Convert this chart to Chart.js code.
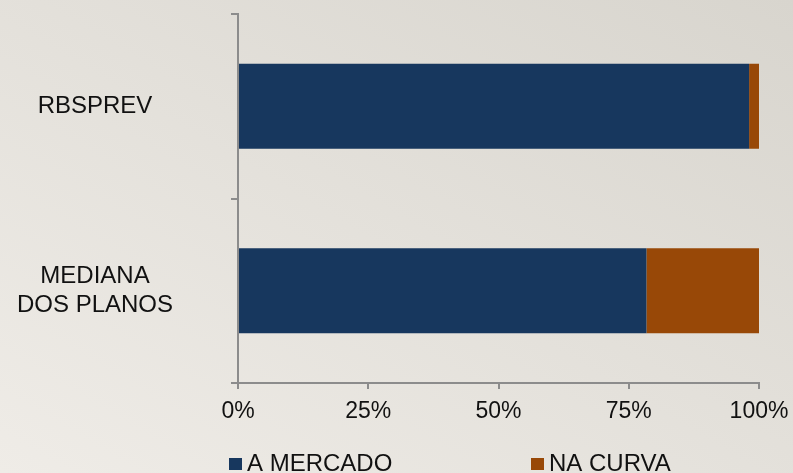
<!DOCTYPE html>
<html>
<head>
<meta charset="utf-8">
<script src="https://cdn.jsdelivr.net/npm/chart.js@4.4.1/dist/chart.umd.min.js"></script>
<style>
    html, body { margin: 0; padding: 0; overflow: hidden; }
    body { width: 793px; height: 473px; background: linear-gradient(to bottom left, #d8d5ce, #efece7); }
</style>
</head>
<body>
<canvas id="chart" width="793" height="473"></canvas>
<script>
// dados do grafico
const categories = ['RBSPREV', ['MEDIANA', 'DOS PLANOS']];
const seriesNames = ['A MERCADO', 'NA CURVA'];
const aMercado = [98.1, 78.4];
const naCurva = [1.9, 21.6];
const xTicks = [0, 25, 50, 75, 100];

const FAMILY = '"Liberation Sans", Arial, sans-serif';
const AXIS_GRAY = '#8c8c8c';

// legenda desenhada embaixo, estilo Excel
const legendBelow = {
    id: 'legendBelow',
    afterDraw(chart) {
        const ctx = chart.ctx;
        const spots = [229, 531];
        ctx.save();
        ctx.font = '24px ' + FAMILY;
        ctx.textBaseline = 'alphabetic';
        chart.data.datasets.forEach((ds, i) => {
            ctx.fillStyle = ds.backgroundColor;
            ctx.fillRect(spots[i], 458, 13, 12);
            ctx.fillStyle = '#111';
            ctx.fillText(ds.label, spots[i] + 18, 471);
        });
        ctx.restore();
    }
};

new Chart(document.getElementById('chart'), {
    type: 'bar',
    data: {
        labels: categories,
        datasets: [
            { label: seriesNames[0], data: aMercado, backgroundColor: '#17375e' },
            { label: seriesNames[1], data: naCurva, backgroundColor: '#984807' }
        ]
    },
    options: {
        indexAxis: 'y',
        responsive: false,
        animation: false,
        layout: { padding: { top: 14, right: 34, left: 0, bottom: 0 } },
        datasets: { bar: { barPercentage: 0.46, categoryPercentage: 1, borderWidth: 0 } },
        plugins: { legend: { display: false }, tooltip: { enabled: false } },
        scales: {
            x: {
                type: 'linear', stacked: true, min: 0, max: 100,
                afterBuildTicks: s => { s.ticks = xTicks.map(v => ({ value: v })); },
                ticks: { callback: v => v + '%', font: { family: FAMILY, size: 23 }, color: '#111', padding: 9, autoSkip: false, maxRotation: 0 },
                grid: { drawOnChartArea: false, tickLength: 6, color: AXIS_GRAY, lineWidth: 2 },
                border: { color: AXIS_GRAY, width: 2 },
                afterFit: s => { s.height = 90; s.paddingLeft = 0; s.paddingRight = 0; }
            },
            y: {
                type: 'category', stacked: true,
                ticks: { crossAlign: 'center', padding: 58, font: { family: FAMILY, size: 24, lineHeight: 1.18 }, color: '#111' },
                grid: { drawOnChartArea: false, offset: true, tickLength: 7, color: AXIS_GRAY, lineWidth: 2 },
                border: { color: AXIS_GRAY, width: 2 },
                afterFit: s => { s.width = 238; s.paddingTop = 0; s.paddingBottom = 0; }
            }
        }
    },
    plugins: [legendBelow]
});
</script>
</body>
</html>
